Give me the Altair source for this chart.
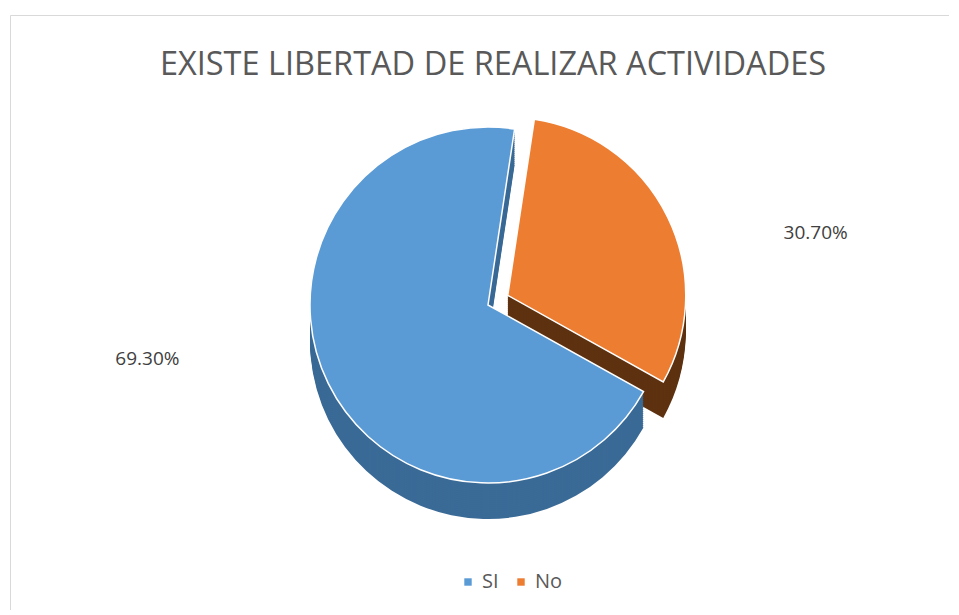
import math
import altair as alt
import pandas as pd

categories = ["No", "SI"]
values = [30.70, 69.30]
labels = ["30.70%", "69.30%"]
colors = ["#ED7D31", "#5B9BD5"]
side_colors = ["#5E3210", "#3A6A96"]
title_text = "EXISTE LIBERTAD DE REALIZAR ACTIVIDADES"

df = pd.DataFrame({"cat": categories, "val": values, "label": labels,
                   "order": [0, 1]})

start = 0.15
theta_scale = alt.Scale(range=[start, start + 2 * math.pi])
color_scale = alt.Scale(domain=["SI", "No"], range=[colors[1], colors[0]])

cx, cy, R = 478, 290, 178
mid = start + values[0] / 100 * math.pi
ex, ey = 22 * math.sin(mid), -22 * math.cos(mid)

base = alt.Chart(df)

def slice_layer(cat, dx, dy, color_enc, depth=0, stroke="white"):
    kw = dict(outerRadius=R)
    if stroke:
        kw.update(stroke=stroke, strokeWidth=1.5)
    return base.mark_arc(**kw).encode(
        theta=alt.Theta("val:Q", stack=True, scale=theta_scale),
        order=alt.Order("order:Q"),
        color=color_enc,
        opacity=alt.condition(alt.datum.cat == cat, alt.value(1), alt.value(0)),
        x=alt.value(cx + dx), y=alt.value(cy + dy + depth),
    )

side_enc = alt.condition(alt.datum.cat == "SI", alt.value(side_colors[1]), alt.value(side_colors[0]))

layers = []
for d in range(36, 0, -2):
    layers.append(slice_layer("SI", 0, 0, side_enc, d, stroke=None))
    layers.append(slice_layer("No", ex, ey, side_enc, d, stroke=None))

legend = alt.Legend(title=None, orient="none", legendX=448, legendY=557,
                    direction="horizontal", symbolType="square", symbolSize=55,
                    labelFontSize=20, labelColor="#595959", labelFont="Open Sans",
                    columnPadding=12, symbolStrokeWidth=0)
pie_si = slice_layer("SI", 0, 0, alt.Color("cat:N", scale=color_scale, legend=legend))
pie_no = slice_layer("No", ex, ey, alt.Color("cat:N", scale=color_scale, legend=legend))

def label_layer(cat, dx, dy):
    return base.mark_text(fontSize=19, font="Open Sans", color="#404040",
                          dx=dx, dy=dy).encode(
        theta=alt.Theta("val:Q", stack=True, scale=theta_scale),
        order=alt.Order("order:Q"),
        radius=alt.value(R + 70),
        text="label:N",
        opacity=alt.condition(alt.datum.cat == cat, alt.value(1), alt.value(0)),
        x=alt.value(cx), y=alt.value(cy),
    )

text_si = label_layer("SI", -118, -55)
text_no = label_layer("No", 105, 37)

title = alt.Chart(pd.DataFrame({"t": [title_text]})).mark_text(
    fontSize=32.5, font="Open Sans", color="#595959"
).encode(text="t:N", x=alt.value(483), y=alt.value(50))

chart = alt.layer(*layers, pie_si, pie_no, text_si, text_no, title).properties(
    width=939, height=595, padding={"left": 2, "top": 7, "right": 0, "bottom": 0}
).configure_view(stroke="#D9D9D9", strokeWidth=1)

chart.save("out.html", embed_options={"renderer": "svg", "actions": False})
